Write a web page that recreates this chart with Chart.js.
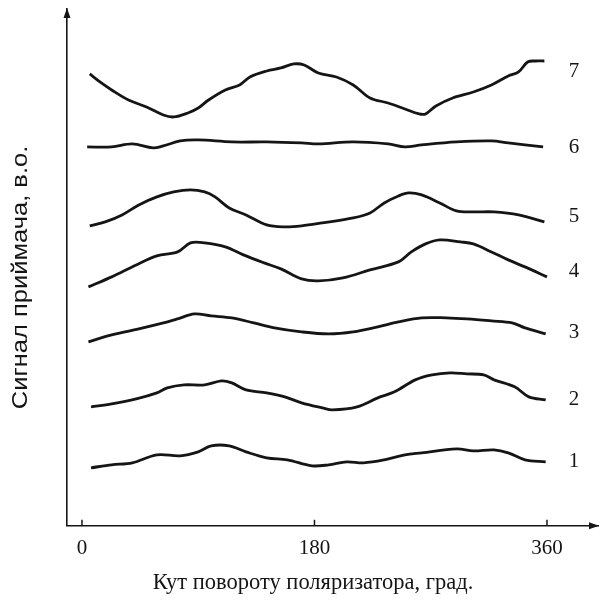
<!DOCTYPE html>
<html>
<head>
<meta charset="utf-8">
<script src="https://cdn.jsdelivr.net/npm/chart.js@4.4.1/dist/chart.umd.min.js"></script>
<style>
  html, body { margin: 0; padding: 0; background: #fff; }
  #wrap { width: 600px; height: 601px; position: relative; }
</style>
</head>
<body>
<div id="wrap"><canvas id="chart"></canvas></div>
<script>
// polarizer angle (deg) and receiver signal (arb. units) for each curve
const angles1 = [7, 23, 39, 58, 76, 90, 100, 114, 127, 143, 159, 178, 191, 205, 218, 234, 250, 263, 290, 303, 319, 330, 343, 359];
const signal1 = [58, 61, 63, 71, 70, 74, 80, 80, 74, 68, 66, 60, 61, 64, 63, 66, 71, 73, 77, 75, 76, 73, 66, 64];

const angles2 = [7, 23, 42, 58, 66, 79, 95, 108, 116, 127, 143, 157, 170, 186, 194, 213, 229, 242, 258, 271, 285, 298, 311, 319, 335, 346, 359];
const signal2 = [119, 122, 127, 133, 138, 141, 141, 145, 143, 136, 133, 129, 123, 118, 116, 119, 128, 134, 146, 151, 153, 152, 151, 146, 139, 129, 126];

const angles3 = [5, 23, 44, 63, 74, 87, 100, 116, 133, 149, 170, 191, 210, 229, 245, 263, 282, 298, 317, 333, 343, 359];
const signal3 = [184, 191, 197, 203, 207, 212, 210, 208, 203, 198, 194, 192, 194, 199, 204, 208, 208, 207, 205, 203, 198, 192];

const angles4 = [5, 23, 42, 58, 74, 84, 95, 111, 125, 141, 154, 170, 183, 202, 223, 245, 255, 266, 277, 293, 303, 317, 330, 343, 360];
const signal4 = [239, 249, 261, 270, 274, 283, 283, 279, 271, 263, 257, 247, 245, 248, 256, 264, 274, 282, 286, 284, 282, 274, 266, 259, 249];

const angles5 = [6, 18, 31, 44, 58, 71, 84, 95, 103, 114, 127, 143, 157, 170, 186, 210, 223, 234, 245, 253, 263, 277, 290, 303, 319, 338, 358];
const signal5 = [300, 304, 311, 321, 329, 334, 336, 334, 329, 318, 311, 301, 299, 300, 303, 308, 313, 323, 330, 333, 331, 323, 315, 314, 314, 311, 304];

const angles6 = [4, 23, 39, 55, 63, 76, 90, 116, 143, 170, 183, 210, 237, 250, 263, 290, 317, 330, 343, 357];
const signal6 = [379, 379, 382, 378, 380, 385, 386, 384, 384, 383, 382, 384, 382, 379, 381, 384, 385, 383, 381, 379];

const angles7 = [6, 15, 23, 36, 50, 63, 71, 82, 90, 98, 111, 122, 130, 143, 154, 164, 172, 183, 197, 210, 223, 237, 250, 261, 266, 274, 287, 303, 317, 330, 338, 345, 351, 358];
const signal7 = [452, 443, 436, 426, 419, 411, 409, 413, 418, 426, 436, 441, 449, 455, 458, 462, 461, 453, 449, 441, 428, 423, 417, 412, 412, 420, 428, 434, 441, 450, 454, 464, 465, 465];

// axis ticks and curve numbering
const angleTicks = [0, 180, 360];
const curveNames = ['1', '2', '3', '4', '5', '6', '7'];
const labelLevels = [64, 126, 193, 254, 309, 378, 454];
const labelAngle = 381;
const xTitle = 'Кут повороту поляризатора, град.';
const yTitle = 'Сигнал приймача, в.о.';

const allAngles = [angles1, angles2, angles3, angles4, angles5, angles6, angles7];
const allSignals = [signal1, signal2, signal3, signal4, signal5, signal6, signal7];

const ink = '#151515';

const datasets = allAngles.map((ang, i) => ({
  label: curveNames[i],
  data: ang.map((a, j) => ({ x: a, y: allSignals[i][j] })),
  borderColor: ink,
  borderWidth: 2.8,
  pointRadius: 0,
  tension: 0.35,
  fill: false
}));

// arrows, inner ticks, curve numbers and axis titles
const decor = {
  id: 'decor',
  afterDraw(chart) {
    const { ctx, chartArea: a, scales: { x, y } } = chart;
    ctx.save();
    ctx.strokeStyle = ink;
    ctx.fillStyle = ink;
    ctx.lineWidth = 1.5;

    x.ticks.forEach(t => {
      const px = x.getPixelForValue(t.value);
      ctx.beginPath();
      ctx.moveTo(px, a.bottom);
      ctx.lineTo(px, a.bottom - 6);
      ctx.stroke();
    });

    // y arrow
    ctx.beginPath();
    ctx.moveTo(a.left, a.top - 1);
    ctx.lineTo(a.left - 3.5, a.top + 9);
    ctx.lineTo(a.left + 3.5, a.top + 9);
    ctx.closePath();
    ctx.fill();
    // x arrow
    ctx.beginPath();
    ctx.moveTo(a.right + 1, a.bottom);
    ctx.lineTo(a.right - 9, a.bottom - 3.5);
    ctx.lineTo(a.right - 9, a.bottom + 3.5);
    ctx.closePath();
    ctx.fill();

    ctx.font = '21px "Liberation Serif"';
    ctx.textAlign = 'center';
    ctx.textBaseline = 'middle';
    curveNames.forEach((n, i) => {
      ctx.fillText(n, x.getPixelForValue(labelAngle), y.getPixelForValue(labelLevels[i]));
    });

    ctx.font = '22.5px "Liberation Serif"';
    ctx.fillText(xTitle, 313, 583);

    ctx.translate(27, 277.5);
    ctx.rotate(-Math.PI / 2);
    ctx.scale(1.16, 1);
    ctx.textBaseline = 'alphabetic';
    ctx.font = '22px "Liberation Sans"';
    ctx.fillText(yTitle, 0, 0);
    ctx.restore();
  }
};

new Chart(document.getElementById('chart'), {
  type: 'line',
  data: { datasets },
  options: {
    responsive: true,
    maintainAspectRatio: false,
    animation: false,
    layout: { padding: { left: 67, right: 2, top: 9, bottom: 30 } },
    plugins: { legend: { display: false }, tooltip: { enabled: false } },
    scales: {
      x: {
        type: 'linear',
        min: -11.6,
        max: 399.5,
        afterBuildTicks: s => { s.ticks = angleTicks.map(v => ({ value: v })); },
        grid: { display: false, drawTicks: false },
        border: { display: true, color: ink, width: 1.6 },
        ticks: {
          color: ink,
          padding: 10,
          maxRotation: 0,
          font: { family: 'Liberation Serif', size: 21 }
        }
      },
      y: {
        min: 0,
        max: 517,
        grid: { display: false, drawTicks: false },
        border: { display: true, color: ink, width: 1.6 },
        ticks: { display: false }
      }
    }
  },
  plugins: [decor]
});
</script>
</body>
</html>
